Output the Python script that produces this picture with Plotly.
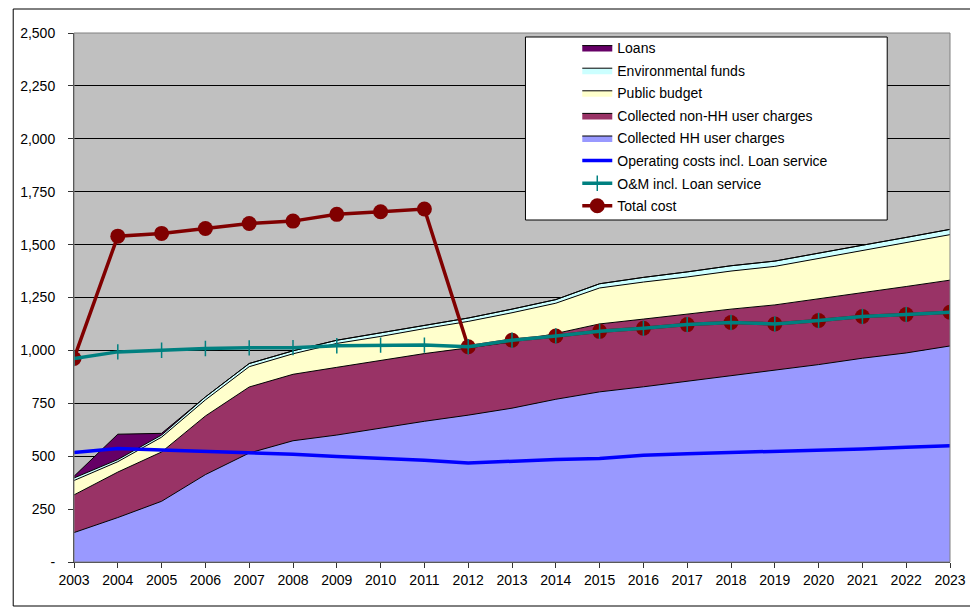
import plotly.graph_objects as go

years = list(range(2003, 2024))

# stacked financing sources (bottom to top)
hh_charges = [139, 210, 287, 413, 515, 573, 600, 634, 665, 694, 727, 769, 804, 828, 854, 878, 906, 933, 963, 988, 1021]
non_hh_charges = [178, 215, 233, 277, 312, 314, 320, 320, 320, 318, 313, 311, 321, 320, 318, 317, 309, 310, 309, 314, 311]
public_budget = [68, 49, 70, 76, 96, 97, 113, 112, 118, 125, 138, 143, 170, 175, 175, 180, 182, 191, 201, 207, 215]
env_funds = [12, 10, 10, 14, 15, 14, 15, 16, 16, 16, 17, 17, 20, 22, 24, 25, 25, 24, 24, 25, 25]
loans = [8, 120, 8, 0, 0, 0, 0, 0, 0, 0, 0, 0, 0, 0, 0, 0, 0, 0, 0, 0, 0]

# cost lines
operating_costs = [517, 536, 529, 523, 515, 509, 499, 492, 481, 468, 478, 484, 489, 504, 512, 517, 523, 528, 534, 542, 549]
om_costs = [962, 993, 1001, 1009, 1012, 1013, 1022, 1025, 1025, 1017, 1048, 1068, 1090, 1105, 1122, 1132, 1125, 1141, 1160, 1170, 1180]
total_cost = [962, 1540, 1553, 1576, 1600, 1611, 1643, 1655, 1668, 1017, 1048, 1068, 1090, 1105, 1122, 1132, 1125, 1141, 1160, 1170, 1180]

y_ticks = [0, 250, 500, 750, 1000, 1250, 1500, 1750, 2000, 2250, 2500]
y_labels = ["-", "250", "500", "750", "1,000", "1,250", "1,500", "1,750", "2,000", "2,250", "2,500"]

fig = go.Figure()

areas = [
    ("Collected HH user charges", hh_charges, "#9999FF", 5),
    ("Collected non-HH user charges", non_hh_charges, "#993366", 4),
    ("Public budget", public_budget, "#FFFFCC", 3),
    ("Environmental funds", env_funds, "#CCFFFF", 2),
    ("Loans", loans, "#660066", 1),
]
for name, vals, color, rank in areas:
    fig.add_trace(go.Scatter(
        x=years, y=vals, name=name, mode="lines", stackgroup="fin",
        line=dict(color="black", width=1), fillcolor=color,
        legendrank=rank, legendgroup=name,
    ))

fig.add_trace(go.Scatter(
    x=years, y=operating_costs, name="Operating costs incl. Loan service",
    mode="lines", line=dict(color="#0000FF", width=3.5),
    legendrank=6, legendgroup="op",
))
fig.add_trace(go.Scatter(
    x=years, y=total_cost, name="Total cost", mode="lines+markers",
    line=dict(color="#800000", width=3.5),
    marker=dict(symbol="circle", size=15, color="#800000"),
    legendrank=8, legendgroup="tc",
))
fig.add_trace(go.Scatter(
    x=years, y=om_costs, name="O&M incl. Loan service", mode="lines+markers",
    line=dict(color="#008080", width=3.5),
    marker=dict(symbol="cross-thin", size=11, line=dict(color="#008080", width=1.5)),
    legendrank=7, legendgroup="om",
))

# the page body adds 8px, so plot area on screen is x 71..950, y 33..562
def px(x):
    return (x - 71) / 879


def py(y):
    return (562 - y) / 529


fig.update_layout(
    width=978, height=607,
    margin=dict(l=63, r=36, t=25, b=53),
    paper_bgcolor="white", plot_bgcolor="#C0C0C0",
    font=dict(family="Arial, Liberation Sans", size=14, color="black"),
    showlegend=True,
    legend=dict(
        x=px(576), y=py(32), xanchor="left", yanchor="top",
        bgcolor="rgba(0,0,0,0)", borderwidth=0,
        traceorder="grouped", tracegroupgap=1.4,
        font=dict(size=14),
    ),
    shapes=[
        dict(type="rect", xref="paper", yref="paper",
             x0=px(10), x1=px(975), y0=py(606), y1=py(9),
             line=dict(color="black", width=1), layer="below"),
        dict(type="rect", xref="paper", yref="paper",
             x0=0, x1=1, y0=0, y1=1,
             line=dict(color="#808080", width=1)),
        dict(type="rect", xref="paper", yref="paper",
             x0=px(524), x1=px(887), y0=py(220), y1=py(37),
             fillcolor="white", line=dict(color="black", width=1)),
    ],
)

fig.update_xaxes(
    range=[2003, 2023], tickmode="linear", dtick=1, tick0=2003,
    showgrid=False, zeroline=False,
    showline=True, linecolor="#333333", linewidth=1,
    ticks="outside", ticklen=5, tickcolor="#333333",
)
fig.update_yaxes(
    range=[0, 2500], tickvals=y_ticks, ticktext=y_labels,
    showgrid=True, gridcolor="black", gridwidth=1, zeroline=False,
    showline=True, linecolor="#333333", linewidth=1,
    ticks="outside", ticklen=5, tickcolor="#333333",
    ticklabelstandoff=10,
)

fig.write_html("out.html")
